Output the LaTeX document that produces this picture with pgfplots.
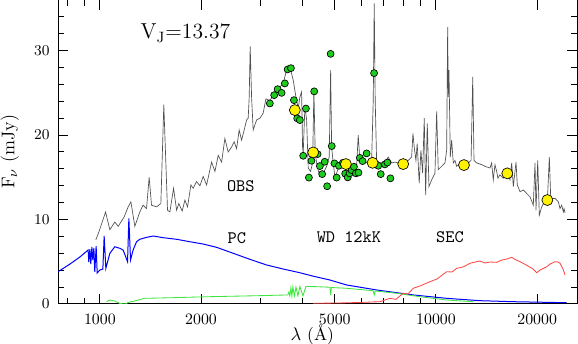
\documentclass[border=0pt]{standalone}
\usepackage{pgfplots}
\pgfplotsset{compat=1.18}
\definecolor{wdgreen}{HTML}{3CE63C}
\definecolor{secred}{HTML}{FF4646}
\definecolor{ptgreen}{HTML}{1ECB1E}
\definecolor{ptyellow}{HTML}{FFF200}
\definecolor{obsgray}{HTML}{505050}

\begin{document}
\begin{tikzpicture}
\begin{axis}[
    scale only axis,
    width=311.4pt, height=182.4pt,
    xmode=log,
    xmin=751, xmax=26280,
    ymin=0, ymax=36,
    xtick={1000,2000,5000,10000,20000},
    xticklabels={1000,2000,5000,10000,20000},
    minor xtick={800,900,3000,4000,6000,7000,8000,9000},
    ytick={0,10,20,30},
    minor ytick={2,4,...,34},
    tick align=inside,
    xtick pos=both, ytick pos=both,
    major tick length=6pt, minor tick length=3.6pt,
    axis line style={line width=0.6pt},
    every tick/.append style={line width=0.6pt, black},
    ticklabel style={font=\fontsize{9.5}{11}\selectfont},
    xticklabel style={yshift=-2.5pt},
    yticklabel style={xshift=-1.5pt},
    xlabel={$\lambda$ (\AA)},
    ylabel={F$_\nu$ (mJy)},
    xlabel style={at={(rel axis cs:0.49,-0.103)}, anchor=center, font=\fontsize{10.5}{12}\selectfont},
    ylabel style={at={(rel axis cs:-0.093,0.5)}, anchor=center, font=\fontsize{11}{13}\selectfont},
]

% observed spectrum
\addplot[obsgray, line width=0.4pt] coordinates {
(973,7.6)(993,8.5)(1040,10.9)(1071,8.8)(1108,9.7)(1134,9.2)(1181,10.3)(1214,11.5)(1237,12.1)(1271,9.2)
(1315,10.9)(1345,11.7)(1377,11.3)(1402,15.0)(1425,11.7)(1475,11.5)(1519,11.9)(1550,23.6)(1590,11.1)(1616,10.9)
(1657,13.7)(1692,11.1)(1718,11.9)(1758,11.0)(1791,12.3)(1824,11.5)(1866,14.1)(1896,13.7)(1940,14.5)(1985,14.0)
(2030,15.1)(2078,14.1)(2150,16.8)(2200,15.7)(2250,17.6)(2303,16.8)(2355,19.6)(2409,18.0)(2466,18.6)(2510,19.2)
(2552,18.4)(2597,20.6)(2640,19.4)(2688,20.6)(2733,21.8)(2763,22.0)(2782,24.5)(2801,30.5)(2828,24.5)(2859,20.6)
(2927,21.8)(2994,22.0)(3062,22.6)(3119,24.3)(3205,24.1)(3317,24.9)(3394,25.5)(3511,26.1)(3594,27.7)(3676,28.1)
(3762,26.5)(3832,24.5)(3893,23.2)(3937,24.5)(3983,25.1)(4010,18.6)(4027,17.8)(4074,23.4)(4123,21.8)(4168,16.1)
(4236,15.7)(4295,16.7)(4334,25.3)(4373,17.8)(4433,16.3)(4515,15.1)(4619,15.5)(4728,16.3)(4813,17.4)(4860,27.7)
(4893,18.6)(4946,16.7)(5003,15.1)(5064,15.5)(5178,16.7)(5297,16.5)(5422,16.1)(5545,15.9)(5673,16.1)(5807,16.3)
(5871,20.0)(5938,17.0)(6074,16.7)(6287,16.8)(6436,17.0)(6507,24.1)(6552,35.6)(6596,24.1)(6659,17.0)(6811,16.7)
(7048,16.8)(7211,17.4)(7382,16.7)(7548,16.8)(7722,16.7)(7975,16.7)(8270,17.0)(8465,17.4)(8541,20.2)(8615,18.6)
(8717,17.0)(8794,19.0)(8916,14.3)(9021,18.2)(9126,15.5)(9229,22.0)(9318,12.9)(9422,21.4)(9532,13.9)(9710,14.7)
(9931,15.5)(10048,22.8)(10158,15.9)(10397,16.3)(10636,16.7)(10760,18.2)(10834,32.8)(10879,24.5)(10932,27.7)(11030,17.4)
(11135,19.4)(11259,16.7)(11390,17.0)(11525,16.3)(11787,16.7)(12198,16.5)(12484,16.7)(12719,17.0)(12865,26.9)(12976,17.0)
(13218,16.7)(13677,16.5)(13990,16.3)(14478,16.1)(14646,16.7)(14808,14.7)(14983,16.5)(15155,15.7)(15290,14.9)(15505,15.3)
(15860,14.9)(16268,15.5)(16605,14.7)(16801,16.7)(16988,13.9)(17304,16.8)(17457,14.1)(17783,13.3)(18188,13.5)(19045,12.7)
(19483,11.7)(19709,16.7)(19845,11.1)(20078,17.0)(20297,10.5)(20635,11.5)(21107,12.3)(21447,12.2)(21741,17.4)(21949,12.5)
(22605,12.5)(23121,12.1)(23393,11.3)(23664,11.7)(23929,10.9)(24044,11.3)(24208,10.8)
};

% primary component (PC)
\addplot[blue, line width=0.6pt] coordinates {
(751,3.82)(815,4.73)(872,5.56)(923,6.39)(927,4.97)(934,6.5)(940,4.73)(947,6.75)(953,5.21)(960,6.63)
(966,3.79)(975,6.86)(982,3.67)(1000,4.02)(1021,4.14)(1030,8.05)(1042,4.22)(1071,6.0)(1108,6.78)(1147,6.59)
(1173,6.39)(1209,5.0)(1220,10.14)(1234,5.21)(1256,6.39)(1286,7.37)(1315,7.66)(1377,7.89)(1441,8.05)(1543,7.85)
(1692,7.66)(1853,7.37)(2030,7.1)(2225,6.71)(2494,6.0)(2795,5.29)(3133,4.62)(3511,4.14)(3937,3.7)(4304,3.3)
(4835,2.84)(5422,2.25)(6659,1.66)(8560,1.07)(10760,0.67)(13519,0.39)(16988,0.27)(24490,0.15)
};

% white dwarf (WD 12kK)
\addplot[wdgreen, line width=0.5pt] coordinates {
(1047,0.27)(1071,0.47)(1108,0.35)(1147,0.06)(1187,0.0)(1228,0.24)(1269,0.35)(1358,0.67)(1509,0.71)(1667,0.75)
(2096,0.86)(2953,0.98)(3626,1.07)(3651,1.42)(3676,0.95)(3702,1.89)(3727,0.95)(3753,2.01)(3792,0.95)(3832,2.01)
(3885,0.95)(3937,2.07)(4020,0.95)(4103,2.07)(4415,2.05)(4835,1.98)(4860,1.07)(4885,1.95)(5422,1.86)(6507,1.57)
(6552,1.07)(6596,1.54)(7638,1.27)(8958,0.86)(10760,0.47)(12913,0.27)
};

% secondary (SEC)
\addplot[secred, line width=0.5pt] coordinates {
(4313,0.08)(5178,0.12)(5938,0.18)(6811,0.27)(7294,0.67)(7600,0.55)(7991,1.27)(8252,1.18)(8560,1.86)(8958,2.13)
(9597,2.64)(10072,2.96)(10760,3.82)(11158,3.79)(11525,4.22)(12034,4.38)(12623,4.82)(13063,4.97)(13519,5.09)(13990,4.85)
(14478,4.97)(15155,4.93)(15718,5.21)(16268,5.33)(16801,5.53)(17304,5.21)(17783,5.01)(18784,4.5)(19443,4.14)(19941,3.7)
(20396,4.02)(21352,4.41)(21843,4.73)(22605,5.01)(23074,4.97)(23393,4.82)(23878,4.14)(24208,3.43)
};

% photometry
\addplot[only marks, mark=*, mark size=2.1pt, mark options={fill=ptgreen, draw=black, line width=0.4pt}] coordinates {
(3205,23.75)(3302,24.73)(3380,25.44)(3474,25.0)(3552,26.12)(3620,27.78)(3703,27.93)(3780,24.14)(3866,21.98)(3937,21.78)
(4103,23.14)(4343,25.18)(4027,17.55)(4261,16.96)(4445,17.75)(4188,14.97)(4515,16.33)(4587,15.38)(4666,16.84)(4744,13.94)
(4860,29.62)(4897,18.70)(4988,16.65)(5064,14.97)(5143,16.37)(5286,16.72)(5370,15.43)(5463,14.99)(5535,15.47)(5611,15.86)
(5701,16.25)(5779,15.47)(5882,15.56)(5938,17.30)(6049,16.92)(6218,17.83)(6546,27.34)(6734,16.37)(6850,15.38)(7048,16.53)
(7171,16.75)(7320,14.88)
};
\addplot[only marks, mark=*, mark size=3.3pt, mark options={fill=ptyellow, draw=black, line width=0.4pt}] coordinates {
(3804,22.96)(4313,17.95)(5396,16.57)(6479,16.72)(7991,16.57)(12114,16.45)(16300,15.47)(21447,12.31)
};

\node[anchor=west, font=\fontsize{13}{15}\selectfont] at (axis cs:1271,32.1) {V$_\mathrm{J}$=13.37};
\node[font=\ttfamily\fontsize{10.5}{12}\selectfont] at (axis cs:2627,13.96) {OBS};
\node[font=\ttfamily\fontsize{10.5}{12}\selectfont] at (axis cs:2557,7.81) {PC};
\node[font=\ttfamily\fontsize{10.5}{12}\selectfont] at (axis cs:5508,7.87) {WD 12kK};
\node[font=\ttfamily\fontsize{10.5}{12}\selectfont] at (axis cs:11007,7.87) {SEC};
\end{axis}
\pgfresetboundingbox
\useasboundingbox ([xshift=-34.8pt,yshift=-24pt]current axis.south west) rectangle ([xshift=0.6pt]current axis.north east);
\end{tikzpicture}
\end{document}
